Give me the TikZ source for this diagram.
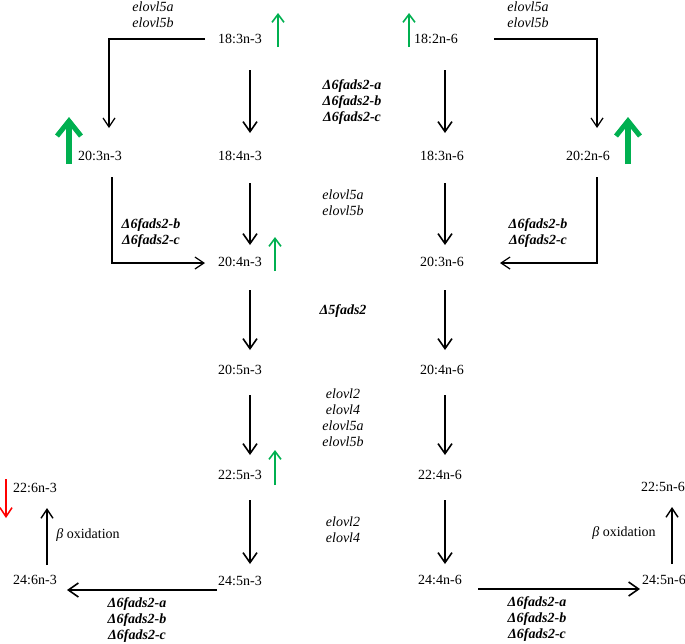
\documentclass[tikz,border=0pt]{standalone}
\usepackage{fontspec}
\setmainfont{Liberation Serif}
\usetikzlibrary{arrows.meta,calc}
\definecolor{upgreen}{RGB}{0,176,80}
\definecolor{downred}{RGB}{255,0,0}
\tikzset{
  fa/.style={font=\fontsize{14}{16}\selectfont, inner sep=0pt, align=center},
  gene/.style={fa, font=\fontsize{14}{16}\selectfont\itshape},
  bgene/.style={fa, font=\fontsize{14}{16}\selectfont\bfseries\itshape},
  mainarr/.style={line width=1.8pt, -{Straight Barb[length=10pt,width=14pt,line width=1.6pt]}},
  thinarr/.style={line width=1.2pt, -{Straight Barb[length=9pt,width=12pt,line width=1.2pt]}},
  betaarr/.style={line width=1.4pt, -{Straight Barb[length=9pt,width=12pt,line width=1.4pt]}},
  smallup/.style={upgreen, line width=1.6pt, -{Straight Barb[length=8pt,width=12pt,line width=1.6pt]}},
  bigup/.style={upgreen, line width=5.5pt, -{Straight Barb[length=15pt,width=24pt,line width=5pt]}},
  reddown/.style={downred, line width=1.5pt, -{Straight Barb[length=9pt,width=12pt,line width=1.5pt]}}
}
\begin{document}
\begin{tikzpicture}[x=1pt,y=-1pt]
\useasboundingbox (0,0) rectangle (685,643);
% fatty acids
\node[fa] (a3) at (240,39) {18:3n-3};
\node[fa] (a6) at (436,39) {18:2n-6};
\node[fa] (b3) at (100,156) {20:3n-3};
\node[fa] (c3) at (240,156) {18:4n-3};
\node[fa] (c6) at (442,156) {18:3n-6};
\node[fa] (b6) at (588,156) {20:2n-6};
\node[fa] (d3) at (240,262) {20:4n-3};
\node[fa] (d6) at (442,262) {20:3n-6};
\node[fa] (e3) at (240,370) {20:5n-3};
\node[fa] (e6) at (442,370) {20:4n-6};
\node[fa] (f3) at (240,475) {22:5n-3};
\node[fa] (f6) at (440,475) {22:4n-6};
\node[fa] (g3) at (240,581) {24:5n-3};
\node[fa] (g6) at (440,580) {24:4n-6};
\node[fa] (h3) at (35,580) {24:6n-3};
\node[fa] (i3) at (35,488) {22:6n-3};
\node[fa] (h6) at (664,580) {24:5n-6};
\node[fa] (i6) at (663,487) {22:5n-6};
% enzyme labels
\node[gene] (l1) at (153,15) {elovl5a\\elovl5b};
\node[gene] (l2) at (528,15) {elovl5a\\elovl5b};
\node[bgene] (l3) at (352,102) {Δ6fads2-a\\Δ6fads2-b\\Δ6fads2-c};
\node[bgene] (l4) at (151,233) {Δ6fads2-b\\Δ6fads2-c};
\node[bgene] (l5) at (538,233) {Δ6fads2-b\\Δ6fads2-c};
\node[gene] (l6) at (343,203) {elovl5a\\elovl5b};
\node[bgene] (l7) at (343,311) {Δ5fads2};
\node[gene] (l8) at (343,418) {elovl2\\elovl4\\elovl5a\\elovl5b};
\node[gene] (l9) at (343,530) {elovl2\\elovl4};
\node[fa] (l10) at (88,535) {{\itshape β} oxidation};
\node[fa] (l11) at (624,533) {{\itshape β} oxidation};
\node[bgene] (l12) at (137,620) {Δ6fads2-a\\Δ6fads2-b\\Δ6fads2-c};
\node[bgene] (l13) at (537,619) {Δ6fads2-a\\Δ6fads2-b\\Δ6fads2-c};
% connectors
\draw[thinarr] ($(a3)+(-35,0)$) -| ($(b3)+(9,-28)$);
\draw[thinarr] ($(a6)+(58,0)$) -| ($(b6)+(9,-28)$);
\draw[mainarr] ($(a3)+(10,31)$) -- ($(c3)+(10,-23)$);
\draw[mainarr] ($(a6)+(9,31)$) -- ($(c6)+(3,-23)$);
\draw[thinarr] ($(b3)+(12,21)$) |- ($(d3)+(-35,1)$);
\draw[thinarr] ($(b6)+(9,21)$) |- ($(d6)+(58,1)$);
\draw[mainarr] ($(c3)+(10,27)$) -- ($(d3)+(10,-17)$);
\draw[mainarr] ($(c6)+(3,27)$) -- ($(d6)+(3,-17)$);
\draw[mainarr] ($(d3)+(10,28)$) -- ($(e3)+(10,-20)$);
\draw[mainarr] ($(d6)+(3,28)$) -- ($(e6)+(3,-20)$);
\draw[mainarr] ($(e3)+(10,25)$) -- ($(f3)+(10,-20)$);
\draw[mainarr] ($(e6)+(3,25)$) -- ($(f6)+(5,-20)$);
\draw[mainarr] ($(f3)+(10,25)$) -- ($(g3)+(10,-17)$);
\draw[mainarr] ($(f6)+(5,25)$) -- ($(g6)+(5,-16)$);
\draw[mainarr] ($(g3)+(-23,9)$) -- ($(h3)+(32,10)$);
\draw[mainarr] ($(g6)+(38,9)$) -- ($(h6)+(-24,9)$);
\draw[betaarr] ($(h3)+(12,-15)$) -- ($(i3)+(12,20)$);
\draw[betaarr] ($(h6)+(8,-16)$) -- ($(i6)+(9,20)$);
% regulation arrows
\coordinate (ga1) at (278,47);
\coordinate (ga2) at (409,47);
\coordinate (gb1) at (69,164);
\coordinate (gb2) at (628,164);
\coordinate (gc1) at (275,271);
\coordinate (gd1) at (275,485);
\coordinate (rd1) at (6,479);
\draw[smallup] (ga1) -- ++(0,-34);
\draw[smallup] (ga2) -- ++(0,-34);
\draw[bigup] (gb1) -- ++(0,-47);
\draw[bigup] (gb2) -- ++(0,-47);
\draw[smallup] (gc1) -- ++(0,-34);
\draw[smallup] (gd1) -- ++(0,-35);
\draw[reddown] (rd1) -- ++(0,39);
\end{tikzpicture}
\end{document}
